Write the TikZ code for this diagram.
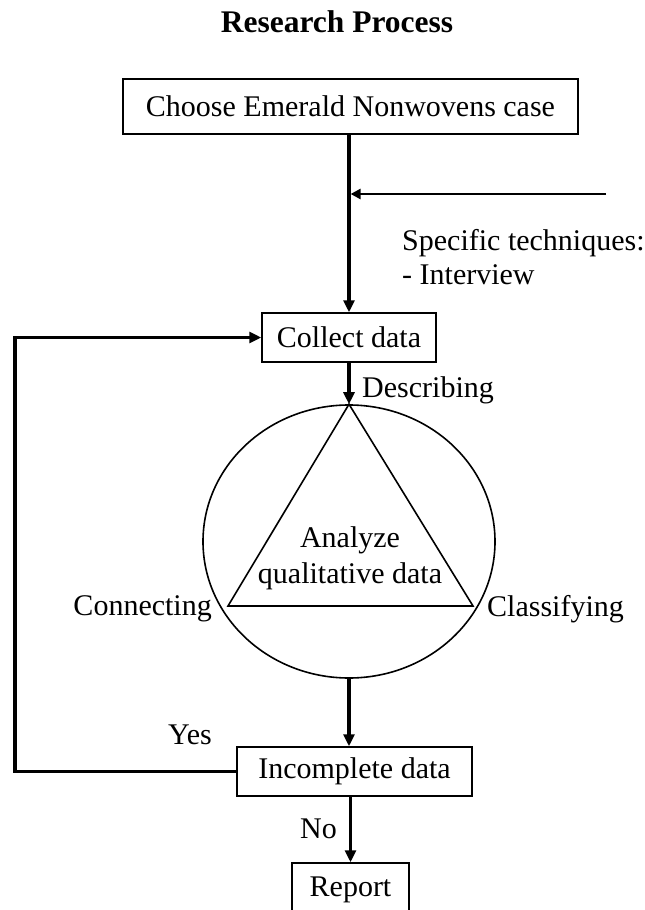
\documentclass[tikz,border=0pt]{standalone}
\usepackage{fontspec}
\setmainfont{Liberation Serif}
\usetikzlibrary{arrows.meta,shapes.geometric}
\begin{document}
\begin{tikzpicture}[x=1pt,y=-1pt,
  every node/.style={font=\fontsize{30}{36}\selectfont},
  box/.style={draw,line width=1.5pt,inner sep=0pt},
  conn/.style={line width=3.2pt,-{Triangle[length=12pt,width=11pt]}},
  lbl/.style={inner sep=0pt,anchor=base west}]
\clip (0,0) rectangle (645,910);
% title
\node[font=\fontsize{31.5}{36}\selectfont\bfseries, anchor=base, inner sep=0pt] (title) at (337,32) {Research Process};
% boxes
\node[box, minimum width=455pt, minimum height=55pt] (choose) at (350.5,106.5) {Choose Emerald Nonwovens case};
\node[box, minimum width=174pt, minimum height=49pt] (collect) at (349,337.5) {Collect data};
\node[draw, ellipse, minimum width=292pt, minimum height=273pt, inner sep=0pt, line width=1.6pt] (ell) at (349,541.5) {};
\node[box, minimum width=235pt, minimum height=49pt] (inc) at (354.5,771.5) {Incomplete data};
\node[box, minimum width=117pt, minimum height=54pt] (report) at (350.5,890) {Report};
% triangle
\coordinate (ta) at (ell.north);
\coordinate (tl) at (228,606);
\coordinate (tr) at (473,606);
\draw[line width=1.6pt, line join=miter] (ta) -- (tl) -- (tr) -- cycle;
% texts
\node[anchor=base, inner sep=0pt] (an1) at (350,547) {Analyze};
\node[anchor=base, inner sep=0pt] (an2) at (350,583) {qualitative data};
\node[lbl] (desc) at (362,397) {Describing};
\node[lbl] (spec1) at (402,250) {Specific techniques:};
\node[lbl] (spec2) at (402,284) {- Interview};
\node[inner sep=0pt, anchor=base east] (conn) at (212,615) {Connecting};
\node[lbl] (class) at (487,616) {Classifying};
\node[lbl] (yes) at (168,744) {Yes};
\node[lbl] (no) at (300,838) {No};
% connectors
\draw[conn] (collect.north |- choose.south) -- (collect.north);
\coordinate (tin) at (606,194);
\draw[line width=2.6pt,-{Triangle[length=10pt,width=10pt]}, shorten >=1.6pt] (tin) -- (tin -| collect.north);
\draw[conn] (collect.south) -- (ell.north);
\draw[conn] (ell.south) -- (ell.south |- inc.north);
\draw[conn] (inc.south -| report.north) -- (report.north);
\coordinate (fb) at (15,0);
\draw[conn, line join=miter] (inc.west) -- (inc.west -| fb) -- (collect.west -| fb) -- (collect.west);
\end{tikzpicture}
\end{document}
